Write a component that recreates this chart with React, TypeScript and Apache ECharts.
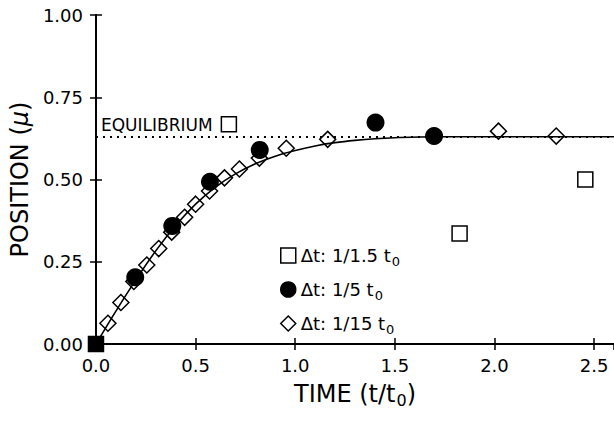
import React, { useEffect, useRef } from "react";
import * as echarts from "echarts";

const xTicks = [0, 0.5, 1.0, 1.5, 2.0, 2.5];
const yTicks = [0, 0.25, 0.5, 0.75, 1.0];

const squareT = [0, 0.667, 1.825, 2.456];
const squareY = [0, 0.668, 0.336, 0.5];

const circleT = [0.197, 0.383, 0.572, 0.822, 1.403, 1.697];
const circleY = [0.203, 0.359, 0.493, 0.59, 0.673, 0.632];

const diamondT = [0.06, 0.125, 0.19, 0.255, 0.315, 0.38, 0.445, 0.5, 0.57, 0.645, 0.72, 0.82, 0.955, 1.163, 2.02, 2.31];
const diamondY = [0.063, 0.126, 0.19, 0.24, 0.29, 0.34, 0.385, 0.425, 0.465, 0.505, 0.532, 0.565, 0.595, 0.622, 0.647, 0.632];

const curveT = [0, 0.1, 0.2, 0.3, 0.4, 0.5, 0.6, 0.7, 0.8, 0.9, 1.0, 1.1, 1.2, 1.3, 1.4, 1.5, 1.7, 2.0, 2.6];
const curveY = [0, 0.1, 0.195, 0.283, 0.36, 0.425, 0.477, 0.517, 0.548, 0.571, 0.588, 0.602, 0.612, 0.619, 0.624, 0.627, 0.63, 0.63, 0.63];

const equilibrium = 0.63;
const seriesNames = ["Δt: 1/1.5 t0", "Δt: 1/5 t0", "Δt: 1/15 t0"];
const legendMain = ["Δt: 1/1.5 t", "Δt: 1/5 t", "Δt: 1/15 t"];

const FONT = "DejaVu Sans";

export default function App() {
  const ref = useRef<HTMLDivElement>(null);
  useEffect(() => {
    if (!ref.current) return;
    const chart = echarts.init(ref.current, null, { renderer: "svg" });
    const zip = (a: number[], b: number[]) => a.map((v, i) => [v, b[i]]);
    const squareData: any[] = zip(squareT, squareY).map((p, i) =>
      i === 0 ? { value: p, itemStyle: { color: "#000" } } : p
    );
    const isTick = (v: number, arr: number[]) => arr.some((t) => Math.abs(t - v) < 1e-6);
    const axisLine = { show: true, lineStyle: { color: "#000", width: 1.8 } };
    const axisTick = { show: true, inside: true, length: 6, lineStyle: { color: "#000", width: 1.5 } };
    const option: any = {
      animation: false,
      backgroundColor: "#fff",
      grid: { left: 95, top: 15, right: -1, bottom: 77, containLabel: false },
      legend: {
        orient: "vertical",
        left: 275,
        top: 238,
        itemWidth: 15,
        itemHeight: 15,
        itemGap: 9,
        data: [
          { name: seriesNames[0], icon: "rect" },
          { name: seriesNames[1], icon: "circle" },
          { name: seriesNames[2], icon: "diamond" },
        ],
        itemStyle: { borderColor: "#000", borderWidth: 1.5, opacity: 1 },
        formatter: (name: string) => {
          const i = seriesNames.indexOf(name);
          return "{a|" + legendMain[i] + "}{s|0}";
        },
        textStyle: {
          fontFamily: FONT,
          color: "#000",
          rich: {
            a: { fontFamily: FONT, fontSize: 18, lineHeight: 25, verticalAlign: "middle", color: "#000" },
            s: { fontFamily: FONT, fontSize: 13, lineHeight: 13, padding: [12, 0, 0, 1], verticalAlign: "middle", color: "#000" },
          },
        },
      },
      xAxis: [
        {
          type: "value",
          min: 0,
          max: 2.6,
          interval: 0.5,
          position: "bottom",
          name: "{a|TIME (t/t}{s|0}{a|)}",
          nameLocation: "middle",
          nameGap: 33,
          nameTextStyle: {
            fontFamily: FONT,
            color: "#000",
            rich: {
              a: { fontFamily: FONT, fontSize: 24, lineHeight: 30, verticalAlign: "middle", color: "#000" },
              s: { fontFamily: FONT, fontSize: 16, lineHeight: 16, padding: [14, 0, 0, 1], verticalAlign: "middle", color: "#000" },
            },
          },
          axisLine,
          axisTick,
          splitLine: { show: false },
          axisLabel: {
            showMaxLabel: false,
            fontFamily: FONT,
            fontSize: 18,
            color: "#000",
            margin: 12,
            formatter: (v: number) => (isTick(v, xTicks) ? v.toFixed(1) : ""),
          },
        },
        {
          type: "value",
          min: 0,
          max: 2.6,
          interval: 0.5,
          position: "top",
          axisLine,
          axisTick,
          splitLine: { show: false },
          axisLabel: { show: false },
        },
      ],
      yAxis: [
        {
          type: "value",
          min: 0,
          max: 1,
          interval: 0.25,
          position: "left",
          name: "{a|POSITION (}{m|μ}{a|)}",
          nameLocation: "middle",
          nameGap: 58,
          nameTextStyle: {
            fontFamily: FONT,
            color: "#000",
            rich: {
              a: { fontFamily: FONT, fontSize: 24, color: "#000" },
              m: { fontFamily: FONT, fontSize: 24, fontStyle: "italic", color: "#000" },
            },
          },
          axisLine,
          axisTick,
          splitLine: { show: false },
          axisLabel: {
            fontFamily: FONT,
            fontSize: 18,
            color: "#000",
            margin: 13,
            formatter: (v: number) => (isTick(v, yTicks) ? v.toFixed(2) : ""),
          },
        },
        {
          type: "value",
          min: 0,
          max: 1,
          interval: 0.25,
          position: "right",
          axisLine,
          axisTick,
          splitLine: { show: false },
          axisLabel: { show: false },
        },
      ],
      series: [
        {
          type: "line",
          name: "curve",
          data: zip(curveT, curveY),
          smooth: 0.3,
          showSymbol: false,
          symbol: "none",
          lineStyle: { color: "#000", width: 1.6 },
          z: 2,
          markLine: {
            silent: true,
            symbol: "none",
            lineStyle: { color: "#000", width: 2, type: [2, 5] },
            label: {
              show: true,
              position: "insideStartTop",
              formatter: "EQUILIBRIUM",
              fontFamily: FONT,
              fontSize: 17,
              color: "#000",
              distance: [5, 3],
            },
            data: [{ yAxis: equilibrium }],
          },
        },
        {
          type: "scatter",
          name: seriesNames[0],
          data: squareData,
          symbol: "rect",
          symbolSize: 15,
          itemStyle: { color: "rgba(255,255,255,0)", borderColor: "#000", borderWidth: 1.5, opacity: 1 },
          z: 3,
        },
        {
          type: "scatter",
          name: seriesNames[1],
          data: zip(circleT, circleY),
          symbol: "circle",
          symbolSize: 18,
          itemStyle: { color: "#000", borderColor: "#000", borderWidth: 0, opacity: 1 },
          z: 4,
        },
        {
          type: "scatter",
          name: seriesNames[2],
          data: zip(diamondT, diamondY),
          symbol: "diamond",
          symbolSize: [16, 16],
          itemStyle: { color: "rgba(255,255,255,0)", borderColor: "#000", borderWidth: 1.5, opacity: 1 },
          z: 3,
        },
      ],
    };
    chart.setOption(option);
    return () => chart.dispose();
  }, []);
  return (
    <div
      ref={ref}
      style={{ position: "fixed", left: 0, top: 0, width: 614, height: 421, background: "#fff" }}
    />
  );
}
